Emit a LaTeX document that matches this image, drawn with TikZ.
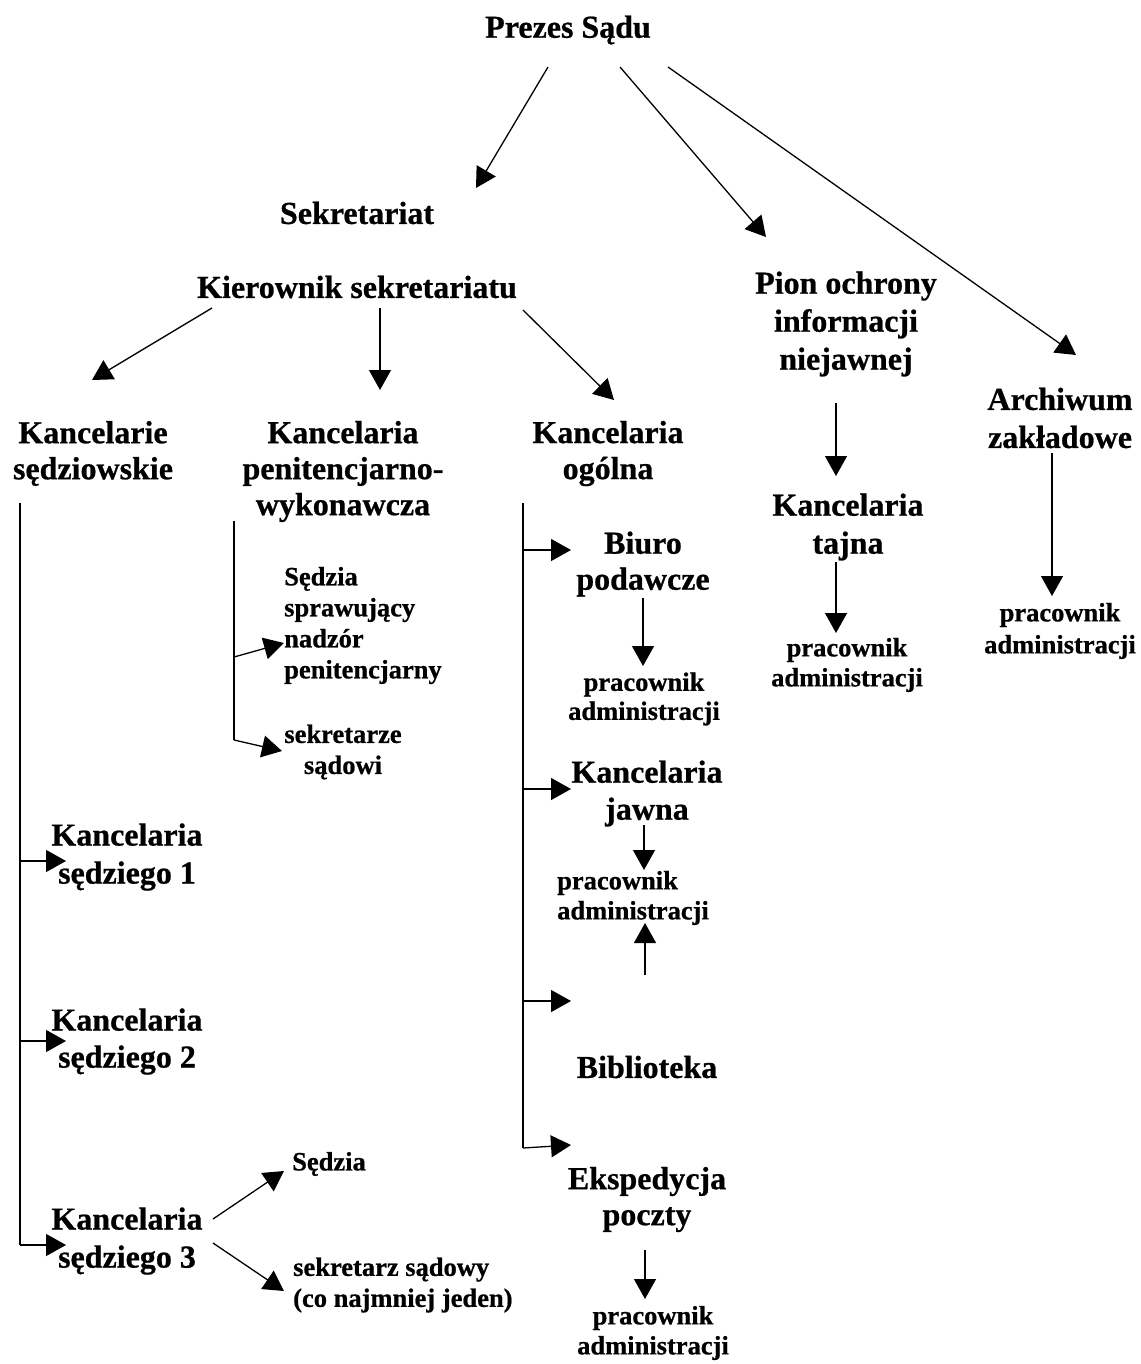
\documentclass[tikz,border=0pt]{standalone}
\usepackage{fontspec}
\setmainfont{Liberation Serif}[BoldFeatures={FakeBold=0.7}]
\usetikzlibrary{arrows.meta}
\tikzset{
  big/.style={font=\fontsize{32}{36}\selectfont\bfseries, align=center, inner sep=0pt},
  bigw/.style={font=\fontsize{32}{38}\selectfont\bfseries, align=center, inner sep=0pt},
  small/.style={font=\fontsize{26.5}{30}\selectfont\bfseries, align=center, inner sep=0pt},
  mid/.style={font=\fontsize{26.5}{31}\selectfont\bfseries, align=center, inner sep=0pt},
  midleft/.style={font=\fontsize{26.5}{31}\selectfont\bfseries, align=left, inner sep=0pt, anchor=west},
  arr/.style={-{Triangle[length=20pt,width=22pt]}, line width=1.3pt},
  ln/.style={line width=1.3pt}
}
\begin{document}
\begin{tikzpicture}[x=1pt,y=-1pt]
\useasboundingbox (0,0) rectangle (1140,1364);
% nodes
\node[big] (prezes) at (568,30) {Prezes Sądu};
\node[big] (sekr) at (357,213) {Sekretariat};
\node[big] (kier) at (357,287) {Kierownik sekretariatu};
\node[bigw] (pion) at (846,324) {Pion ochrony\\informacji\\niejawnej};
\node[bigw] (arch) at (1060,418) {Archiwum\\zakładowe};
\node[big] (kancs) at (93,453.5) {Kancelarie\\sędziowskie};
\node[big] (kancp) at (343,471.5) {Kancelaria\\penitencjarno-\\wykonawcza};
\node[big] (kanco) at (608,453.5) {Kancelaria\\ogólna};
\node[bigw] (tajna) at (848,527) {Kancelaria\\tajna};
\node[small] (pract) at (847,665) {pracownik\\administracji};
\node[font=\fontsize{26.5}{32}\selectfont\bfseries, align=center, inner sep=0pt] (praca) at (1060,631) {pracownik\\administracji};
\node[big] (biuro) at (643,564) {Biuro\\podawcze};
\node[font=\fontsize{26.5}{29}\selectfont\bfseries, align=center, inner sep=0pt] (pracb) at (644,699) {pracownik\\administracji};
\node[midleft] (sedn) at (284,625.5) {Sędzia\\sprawujący\\nadzór\\penitencjarny};
\node[mid] (sekrz) at (343,752) {sekretarze\\sądowi};
\node[font=\fontsize{32}{37}\selectfont\bfseries, align=center, inner sep=0pt] (jawna) at (647,793.5) {Kancelaria\\jawna};
\node[font=\fontsize{26.5}{30}\selectfont\bfseries, align=left, inner sep=0pt, anchor=west] (pracj) at (557,898) {pracownik\\administracji};
\node[big] (bibl) at (647,1067) {Biblioteka};
\node[font=\fontsize{32}{36}\selectfont\bfseries, align=center, inner sep=0pt] (eksp) at (647,1199.5) {Ekspedycja\\poczty};
\node[small] (prace) at (653,1333) {pracownik\\administracji};
\node[bigw] (ks1) at (127,857) {Kancelaria\\sędziego 1};
\node[font=\fontsize{32}{37}\selectfont\bfseries, align=center, inner sep=0pt] (ks2) at (127,1041.5) {Kancelaria\\sędziego 2};
\node[bigw] (ks3) at (127,1241) {Kancelaria\\sędziego 3};
\node[mid] (sedz) at (329,1164) {Sędzia};
\node[midleft] (sekd) at (293,1285) {sekretarz sądowy\\(co najmniej jeden)};
% connector points
\coordinate (a1) at (548,67);  \coordinate (a1e) at (476,188);
\coordinate (a2) at (620,67);  \coordinate (a2e) at (766,237);
\coordinate (a3) at (668,67);  \coordinate (a3e) at (1076,355);
\coordinate (b1) at (212,308); \coordinate (b1e) at (92,380);
\coordinate (b2) at (380,308); \coordinate (b2e) at (380,390);
\coordinate (b3) at (523,310); \coordinate (b3e) at (614,400);
\coordinate (c1) at (836,403); \coordinate (c1e) at (836,476);
\coordinate (c2) at (836,562); \coordinate (c2e) at (836,633);
\coordinate (d1) at (1052,453); \coordinate (d1e) at (1052,596);
% left trunk
\coordinate (ls) at (20,503); \coordinate (lb) at (20,1245);
\coordinate (l1) at (20,861); \coordinate (l1e) at (66,861);
\coordinate (l2) at (20,1041); \coordinate (l2e) at (66,1041);
\coordinate (l3e) at (66,1245);
% penitencjarna trunk
\coordinate (ps) at (234,521); \coordinate (pb) at (234,740);
\coordinate (p1) at (234,657); \coordinate (p1e) at (284,643);
\coordinate (p2e) at (282,751);
% ogolna trunk
\coordinate (os) at (523,503); \coordinate (ob) at (523,1148);
\coordinate (o1) at (523,550); \coordinate (o1e) at (571,550);
\coordinate (o2) at (523,789); \coordinate (o2e) at (571,789);
\coordinate (o3) at (523,1001); \coordinate (o3e) at (571,1001);
\coordinate (o4e) at (571,1145);
% vertical arrows in ogolna column
\coordinate (e1) at (643,598); \coordinate (e1e) at (643,666);
\coordinate (e2) at (644,825); \coordinate (e2e) at (644,870);
\coordinate (e3) at (645,975); \coordinate (e3e) at (645,923);
\coordinate (e4) at (645,1250); \coordinate (e4e) at (645,1299);
% sedziego 3
\coordinate (s1) at (213,1219); \coordinate (s1e) at (284,1171);
\coordinate (s2) at (213,1243); \coordinate (s2e) at (284,1291);
% connectors
\draw[arr] (a1) -- (a1e);
\draw[arr] (a2) -- (a2e);
\draw[arr] (a3) -- (a3e);
\draw[arr] (b1) -- (b1e);
\draw[arr] (b2) -- (b2e);
\draw[arr] (b3) -- (b3e);
\draw[arr] (c1) -- (c1e);
\draw[arr] (c2) -- (c2e);
\draw[arr] (d1) -- (d1e);
\draw[ln] (ls) -- (lb);
\draw[arr] (l1) -- (l1e);
\draw[arr] (l2) -- (l2e);
\draw[arr] (lb) -- (l3e);
\draw[ln] (ps) -- (pb);
\draw[arr] (p1) -- (p1e);
\draw[arr] (pb) -- (p2e);
\draw[ln] (os) -- (ob);
\draw[arr] (o1) -- (o1e);
\draw[arr] (o2) -- (o2e);
\draw[arr] (o3) -- (o3e);
\draw[arr] (ob) -- (o4e);
\draw[arr] (e1) -- (e1e);
\draw[arr] (e2) -- (e2e);
\draw[arr] (e3) -- (e3e);
\draw[arr] (e4) -- (e4e);
\draw[arr] (s1) -- (s1e);
\draw[arr] (s2) -- (s2e);
\end{tikzpicture}
\end{document}
